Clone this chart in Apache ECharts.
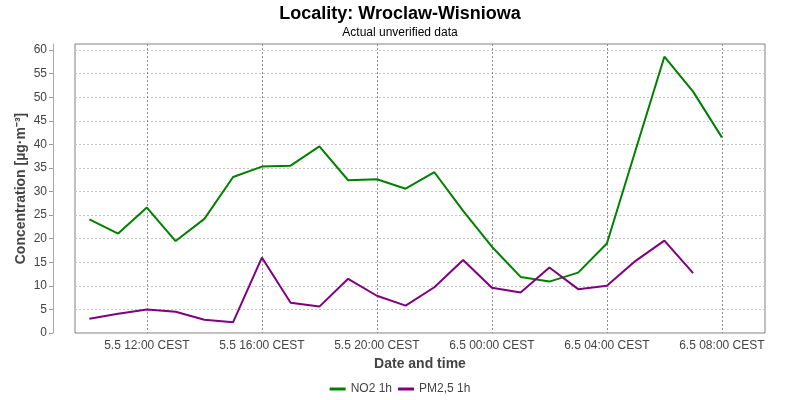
<!DOCTYPE html>
<html>
<head>
<meta charset="utf-8">
<script src="https://cdn.jsdelivr.net/npm/echarts@6/dist/echarts.min.js"></script>
<style>html,body{margin:0;padding:0;background:#fff}#c{width:800px;height:400px}</style>
</head>
<body>
<div id="c"></div>
<script>
// hours since 5.5 00:00 CEST
var hoursNO2 = [10,11,12,13,14,15,16,17,18,19,20,21,22,23,24,25,26,27,28,29,30,31,32];
var no2 = [24.1,21.1,26.6,19.5,24.2,33.1,35.3,35.5,39.6,32.4,32.6,30.6,34.1,25.9,18.3,11.9,10.9,12.8,19.0,38.8,58.6,51.2,41.5];
var hoursPM = [10,11,12,13,14,15,16,17,18,19,20,21,22,23,24,25,26,27,28,29,30,31];
var pm25 = [3.0,4.1,5.0,4.5,2.8,2.3,16.0,6.4,5.6,11.5,7.9,5.8,9.7,15.5,9.6,8.6,13.9,9.3,10.0,15.3,19.6,12.7];
var xTickHours = [12,16,20,24,28,32];
var xTickLabels = ['5.5 12:00 CEST','5.5 16:00 CEST','5.5 20:00 CEST','6.5 00:00 CEST','6.5 04:00 CEST','6.5 08:00 CEST'];
var yTicks = [0,5,10,15,20,25,30,35,40,45,50,55,60];

function pairs(xs, ys){ return xs.map(function(x,i){ return [x, ys[i]]; }); }

var font = 'Liberation Sans, Arial, sans-serif';
var chart = echarts.init(document.getElementById('c'), null, {renderer:'canvas'});
chart.setOption({
  animation: false,
  backgroundColor: '#ffffff',
  title: {
    text: 'Locality: Wroclaw-Wisniowa',
    subtext: 'Actual unverified data',
    left: 'center',
    top: 0,
    itemGap: 4,
    textStyle: {fontFamily: font, fontSize: 18, fontWeight: 'bold', color: '#000'},
    subtextStyle: {fontFamily: font, fontSize: 12, color: '#000'}
  },
  legend: {
    bottom: 0,
    left: 'center',
    itemWidth: 16,
    itemHeight: 3,
    itemGap: 6,
    icon: 'rect',
    textStyle: {fontFamily: font, fontSize: 12, color: '#444'},
    data: ['NO2 1h','PM2,5 1h']
  },
  grid: {
    left: 75, right: 35, top: 44, bottom: 67,
    show: true, borderColor: '#808080', borderWidth: 1, backgroundColor: '#ffffff'
  },
  xAxis: {
    type: 'value',
    min: 9.5, max: 33.5,
    name: 'Date and time',
    nameLocation: 'middle',
    nameGap: 24,
    nameTextStyle: {fontFamily: font, fontSize: 14, fontWeight: 'bold', color: '#444'},
    axisLine: {show: false},
    axisTick: {show: false, customValues: xTickHours},
    axisLabel: {
      customValues: xTickHours,
      margin: 7,
      fontFamily: font, fontSize: 12, color: '#444',
      formatter: function(v){ var i = xTickHours.indexOf(v); return i >= 0 ? xTickLabels[i] : ''; }
    },
    splitLine: {show: true, lineStyle: {color: '#8c8c8c', type: [2,2], width: 1}}
  },
  yAxis: {
    type: 'value',
    min: 0, max: 61.3,
    offset: 22,
    name: 'Concentration [µg·m⁻³]',
    nameLocation: 'middle',
    nameGap: 25,
    nameMoveOverlap: false,
    nameTextStyle: {fontFamily: font, fontSize: 14, fontWeight: 'bold', color: '#444'},
    axisLine: {show: true, lineStyle: {color: '#aaaaaa'}},
    axisTick: {show: true, length: 4, lineStyle: {color: '#999999'}, customValues: yTicks},
    axisLabel: {customValues: yTicks, margin: 6, fontFamily: font, fontSize: 12, color: '#444'},
    splitLine: {show: true, lineStyle: {color: '#c4c4c4', type: [2,2], width: 1}}
  },
  series: [
    {name: 'NO2 1h', type: 'line', data: pairs(hoursNO2, no2), showSymbol: false, symbol: 'none',
     lineStyle: {color: '#008000', width: 2}, itemStyle: {color: '#008000'}},
    {name: 'PM2,5 1h', type: 'line', data: pairs(hoursPM, pm25), showSymbol: false, symbol: 'none',
     lineStyle: {color: '#800080', width: 2}, itemStyle: {color: '#800080'}}
  ]
});
</script>
</body>
</html>
